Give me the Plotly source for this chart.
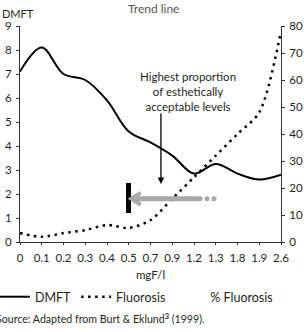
import plotly.graph_objects as go

# Data
categories = ["0", "0.1", "0.2", "0.3", "0.4", "0.5", "0.7", "0.9", "1.2", "1.3", "1.8", "1.9", "2.6"]
dmft = [7.1, 8.1, 7.0, 6.75, 5.9, 4.6, 4.15, 3.6, 2.85, 3.25, 2.85, 2.6, 2.8]
fluorosis = [3.3, 1.9, 3.3, 4.4, 6.3, 5.2, 8.1, 16, 24, 32, 40, 48, 78]
left_ticks = list(range(0, 10))
right_ticks = list(range(0, 90, 10))

xi = list(range(len(categories)))
FONT = "Lato"
TXT = "#231f20"

fig = go.Figure()
fig.add_trace(go.Scatter(x=xi, y=dmft, mode="lines", name="DMFT",
                         line=dict(color="black", width=2, shape="spline", smoothing=1.0),
                         yaxis="y", hoverinfo="skip"))
fig.add_trace(go.Scatter(x=xi, y=fluorosis, mode="lines", name="Fluorosis",
                         line=dict(color="black", width=2.5, dash="2.5px,4.5px", shape="spline", smoothing=0.8),
                         yaxis="y2", hoverinfo="skip"))
fig.add_trace(go.Scatter(x=[None], y=[None], mode="lines", name="% Fluorosis",
                         line=dict(color="rgba(0,0,0,0)", width=0), yaxis="y2"))
# gray dots after the gray arrow
fig.add_trace(go.Scatter(x=[8.28, 8.6, 8.92], y=[1.8, 1.8, 1.8], mode="markers",
                         marker=dict(color="#a8a8a8", size=5), showlegend=False, hoverinfo="skip"))

axcol = "#333333"
fig.update_layout(
    width=304, height=332,
    margin=dict(l=20, r=23, t=26, b=90, autoexpand=False),
    paper_bgcolor="white", plot_bgcolor="white",
    font=dict(family=FONT, size=11, color=TXT),
    showlegend=True,
    legend=dict(orientation="h", x=-0.096, xanchor="left", y=-0.255, yanchor="middle",
                font=dict(size=12.5, color=TXT), bgcolor="rgba(0,0,0,0)"),
    xaxis=dict(range=[0, 12], tickvals=xi, ticktext=categories, showgrid=False, zeroline=False,
               showline=True, linecolor=axcol, linewidth=1, ticks="outside", ticklen=2,
               tickcolor=axcol, tickfont=dict(size=11.5, color=TXT), ticklabelstandoff=3,
               title=dict(text="mgF/l", standoff=8, font=dict(size=11.5, color=TXT))),
    xaxis2=dict(range=[0, 12], overlaying="x", tickvals=xi, showticklabels=False, showgrid=False,
                zeroline=False, ticks="inside", ticklen=5, tickcolor=axcol, showline=False),
    yaxis=dict(range=[0, 9], tickvals=left_ticks, showgrid=False, zeroline=False,
               showline=True, linecolor=axcol, linewidth=1, ticks="outside", ticklen=3,
               tickcolor=axcol, tickfont=dict(size=11.5, color=TXT), ticklabelstandoff=2),
    yaxis2=dict(range=[0, 80], tickvals=right_ticks, overlaying="y", side="right", showgrid=False,
                zeroline=False, showline=True, linecolor=axcol, linewidth=1, ticks="outside",
                ticklen=3, tickcolor=axcol, tickfont=dict(size=11.5, color=TXT), ticklabelstandoff=2),
    yaxis3=dict(range=[0, 9], tickvals=left_ticks, overlaying="y", side="left", showticklabels=False,
                showgrid=False, zeroline=False, ticks="inside", ticklen=3, tickcolor=axcol),
    yaxis4=dict(range=[0, 80], tickvals=right_ticks, overlaying="y", side="right", showticklabels=False,
                showgrid=False, zeroline=False, ticks="inside", ticklen=3, tickcolor=axcol),
)

# Black vertical bar
fig.add_shape(type="line", xref="x", yref="y", x0=4.99, x1=4.99, y0=1.21, y1=2.46,
              line=dict(color="black", width=5))
# Gray arrow line and chevron
fig.add_shape(type="line", xref="x", yref="y", x0=5.2, x1=8.23, y0=1.8, y1=1.8,
              line=dict(color="#a8a8a8", width=5))
fig.add_shape(type="path", xref="x", yref="y", path="M 5.55,2.05 L 5.12,1.8 L 5.55,1.55",
              line=dict(color="#a8a8a8", width=4))

# Black arrow pointing down
fig.add_annotation(x=6.48, y=2.42, ax=6.48, ay=5.42, xref="x", yref="y", axref="x", ayref="y",
                   text="", showarrow=True, arrowhead=2, arrowsize=1, arrowwidth=1.3, arrowcolor="black")

fig.add_annotation(text="Highest proportion<br>of esthetically<br>acceptable levels",
                   xref="paper", yref="paper", x=0.644, y=(242 - 91) / 216, xanchor="center",
                   yanchor="middle", showarrow=False, font=dict(size=11.5, color=TXT))
fig.add_annotation(text="Trend line", xref="paper", yref="paper", x=(153 - 20) / 261,
                   y=(242 - 9) / 216, xanchor="center", yanchor="middle", showarrow=False,
                   font=dict(size=12, color="#555555"))
fig.add_annotation(text="DMFT", xref="paper", yref="paper", x=(0 - 20) / 261, y=(242 - 14) / 216,
                   xanchor="left", yanchor="middle", showarrow=False, font=dict(size=11, color=TXT))
fig.add_annotation(text="Source: Adapted from Burt & Eklund<sup><b>3</b></sup> (1999).",
                   xref="paper", yref="paper", x=(-6 - 20) / 261, y=(242 - 318) / 216,
                   xanchor="left", yanchor="middle", showarrow=False, font=dict(size=10.6, color=TXT))

fig.write_html("out.html")
